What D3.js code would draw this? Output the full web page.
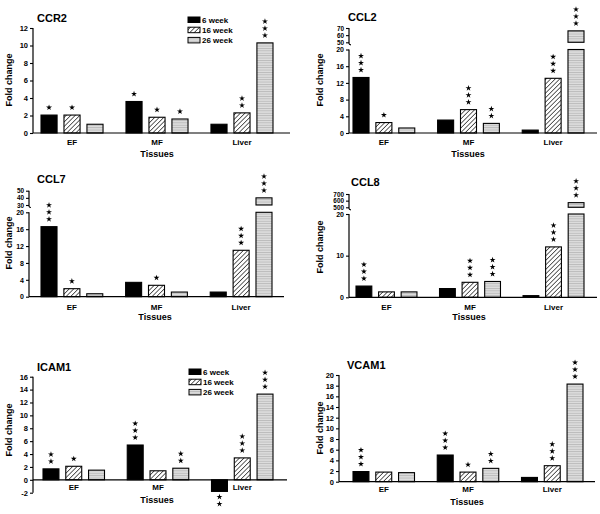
<!DOCTYPE html>
<html><head><meta charset="utf-8">
<script src="https://cdn.jsdelivr.net/npm/d3@7"></script>
<style>
body{margin:0;background:#fff;}
svg{font-family:"Liberation Sans",Arial,sans-serif;font-weight:bold;}
</style></head>
<body><svg id="c" width="600" height="514"></svg>
<script>
// ---------- data ----------
const tissues = ["EF", "MF", "Liver"];
const series = ["6 week", "16 week", "26 week"];
// values[tissue][series]
const ccr2  = [[2.05, 2.05, 1.0], [3.6, 1.8, 1.6], [1.0, 2.3, 10.3]];
const ccr2S = [[1, 1, 0], [1, 1, 1], [0, 2, 3]];
const ccl2  = [[13.3, 2.5, 1.2], [3.1, 5.6, 2.3], [0.7, 13.1, 66]];
const ccl2S = [[3, 1, 0], [0, 3, 2], [0, 3, 3]];
const ccl7  = [[16.6, 1.9, 0.7], [3.4, 2.7, 1.1], [1.1, 11.0, 40]];
const ccl7S = [[3, 1, 0], [0, 1, 0], [0, 3, 3]];
const ccl8  = [[2.7, 1.3, 1.3], [2.1, 3.6, 3.8], [0.4, 12.1, 570]];
const ccl8S = [[3, 0, 0], [0, 3, 3], [0, 3, 3]];
const icam1  = [[1.7, 2.1, 1.5], [5.4, 1.4, 1.8], [-1.8, 3.4, 13.3]];
const icam1S = [[2, 1, 0], [3, 0, 2], [2, 3, 3]];
const vcam1  = [[1.9, 1.8, 1.7], [5.0, 1.8, 2.5], [0.8, 3.0, 18.3]];
const vcam1S = [[3, 0, 0], [3, 1, 2], [0, 3, 3]];

const ticksCCR2 = [0, 2, 4, 6, 8, 10, 12];
const ticksCCL2 = [0, 4, 8, 12, 16, 20], ticksCCL2up = [50, 60, 70];
const ticksCCL7 = [0, 4, 8, 12, 16, 20], ticksCCL7up = [30, 40, 50];
const ticksCCL8 = [0, 10, 20], ticksCCL8up = [500, 600, 700];
const ticksICAM1 = [-2, 0, 2, 4, 6, 8, 10, 12, 14, 16];
const ticksVCAM1 = [0, 2, 4, 6, 8, 10, 12, 14, 16, 18, 20];

// ---------- layout ----------
const panels = [
  {title:"CCR2", v:ccr2, s:ccr2S, ax:33, ar:290, g:[41,273], dom:[0,12], rng:[133,28], ticks:ticksCCR2,
   tp:[37,22], leg:[188,17], fold:[9,80], tis:[157,157], cat:145},
  {title:"CCL2", v:ccl2, s:ccl2S, ax:349, ar:597, g:[353,584], dom:[0,20], rng:[133,49.5], ticks:ticksCCL2,
   up:{dom:[50,70], rng:[42.3,28], ticks:ticksCCL2up}, tp:[348,21], fold:[320,80], tis:[468,157], cat:145},
  {title:"CCL7", v:ccl7, s:ccl7S, ax:29, ar:284, g:[41,272], dom:[0,20], rng:[296.7,212.3], ticks:ticksCCL7,
   up:{dom:[30,50], rng:[205,190.7], ticks:ticksCCL7up}, tp:[37,183], fold:[9,243], tis:[155,320], cat:310},
  {title:"CCL8", v:ccl8, s:ccl8S, ax:349, ar:597, g:[356,584], dom:[0,20], rng:[297.3,214], ticks:ticksCCL8,
   up:{dom:[500,700], rng:[207.3,194], ticks:ticksCCL8up}, tp:[351,186], fold:[320,247], tis:[469,320], cat:310},
  {title:"ICAM1", v:icam1, s:icam1S, ax:33, ar:287, g:[43,273], dom:[-2,16], rng:[492.7,376.7], ticks:ticksICAM1,
   tp:[37,371], leg:[189,369], fold:[9,430], tis:[157,503], cat:490},
  {title:"VCAM1", v:vcam1, s:vcam1S, ax:339, ar:595, g:[353,583], dom:[0,20], rng:[481.7,375], ticks:ticksVCAM1,
   tp:[347,369], fold:[320,428], tis:[467,505], cat:492}
];

const svg = d3.select("#c");
const defs = svg.append("defs");
const hp = defs.append("pattern").attr("id","hatch").attr("patternUnits","userSpaceOnUse")
  .attr("width",3.2).attr("height",3.2).attr("patternTransform","rotate(45)");
hp.append("rect").attr("width",3.2).attr("height",3.2).attr("fill","#fff");
hp.append("line").attr("x1",0).attr("y1",0).attr("x2",0).attr("y2",3.2).attr("stroke","#111").attr("stroke-width",1.3);
const gp = defs.append("pattern").attr("id","grey").attr("patternUnits","userSpaceOnUse")
  .attr("width",4).attr("height",2.4);
gp.append("rect").attr("width",4).attr("height",2.4).attr("fill","#dedede");
gp.append("line").attr("x1",0).attr("y1",0.5).attr("x2",4).attr("y2",0.5).attr("stroke","#a8a8a8").attr("stroke-width",0.7);
const fills = ["#000", "url(#hatch)", "url(#grey)"];

const star = d3.symbol().type(d3.symbolStar).size(11);
const fmt = d => String(d);

function styleAxis(sel, fs) {
  sel.selectAll("line").attr("stroke","#000").attr("stroke-width",1.1);
  sel.selectAll("text").attr("font-size",fs).attr("font-family","Liberation Sans, Arial")
    .attr("font-weight","bold").attr("fill","#000");
}

panels.forEach(p => {
  const g = svg.append("g");
  const x0 = d3.scaleBand().domain(tissues).range(p.g).paddingInner(0.27).paddingOuter(0);
  const x1 = d3.scaleBand().domain(series).range([0, x0.bandwidth()]).paddingInner(0.3).paddingOuter(0);
  const y = d3.scaleLinear().domain(p.dom).range(p.rng);
  const yu = p.up ? d3.scaleLinear().domain(p.up.dom).range(p.up.rng) : null;
  const lowMax = p.dom[1];

  g.append("text").attr("x",p.tp[0]).attr("y",p.tp[1]).attr("font-size",11).text(p.title);

  const ya = g.append("g").attr("transform",`translate(${p.ax},0)`)
    .call(d3.axisLeft(y).tickValues(p.ticks).tickSize(3).tickPadding(2).tickFormat(fmt));
  ya.selectAll("path").attr("stroke","#000").attr("stroke-width",1.2).attr("d",`M0,${y(p.dom[0])}V${y(p.dom[1])}`);
  styleAxis(ya, yu ? 7 : 7.5);

  if (yu) {
    const yb = g.append("g").attr("transform",`translate(${p.ax},0)`)
      .call(d3.axisLeft(yu).tickValues(p.up.ticks).tickSize(3).tickPadding(2).tickFormat(fmt));
    yb.selectAll("path").attr("stroke","#000").attr("stroke-width",1.2).attr("fill","none")
      .attr("d",`M0,${yu(p.up.dom[1])}V${yu(p.up.dom[0])+1}q0,1.5 2,1.5`);
    styleAxis(yb, 6.4);
  }

  tissues.forEach((t, ti) => {
    series.forEach((s, si) => {
      const v = p.v[ti][si];
      const bx = x0(t) + x1(s), bw = x1.bandwidth();
      let top;
      if (yu && v > lowMax) {
        g.append("rect").attr("x",bx).attr("width",bw).attr("y",y(lowMax)).attr("height",y(0)-y(lowMax))
          .attr("fill",fills[si]).attr("stroke","#000").attr("stroke-width",1.1);
        g.append("rect").attr("x",bx).attr("width",bw).attr("y",yu(v)).attr("height",yu(p.up.dom[0])-yu(v))
          .attr("fill",fills[si]).attr("stroke","#000").attr("stroke-width",1.1);
        top = yu(v);
      } else {
        const ya0 = y(Math.max(0, v)), ya1 = y(Math.min(0, v));
        g.append("rect").attr("x",bx).attr("width",bw).attr("y",ya0).attr("height",Math.max(0.8, ya1-ya0))
          .attr("fill",fills[si]).attr("stroke","#000").attr("stroke-width",1.1);
        top = v >= 0 ? ya0 : ya1;
      }
      const n = p.s[ti][si];
      for (let k = 0; k < n; k++) {
        const cy = v >= 0 ? top - 7.5 - k * 7 : top + 5.5 + k * 7;
        g.append("path").attr("d", star).attr("transform",`translate(${bx + bw/2},${cy})`).attr("fill","#000");
      }
    });
    g.append("text").attr("x", x0(t) + x0.bandwidth()/2).attr("y", p.cat).attr("text-anchor","middle")
      .attr("font-size",8).text(t);
  });

  g.append("line").attr("x1",p.ax).attr("x2",p.ar).attr("y1",y(0)).attr("y2",y(0))
    .attr("stroke","#000").attr("stroke-width",1.2);

  g.append("text").attr("transform",`translate(${p.fold[0]},${p.fold[1]}) rotate(-90)`)
    .attr("text-anchor","middle").attr("dominant-baseline","central").attr("font-size",9).text("Fold change");
  g.append("text").attr("x",p.tis[0]).attr("y",p.tis[1]).attr("text-anchor","middle").attr("font-size",9).text("Tissues");

  if (p.leg) {
    series.forEach((s, si) => {
      const ly = p.leg[1] + si * 10.2;
      g.append("rect").attr("x",p.leg[0]).attr("y",ly).attr("width",12).attr("height",5.5)
        .attr("fill",fills[si]).attr("stroke","#000").attr("stroke-width",1);
      g.append("text").attr("x",p.leg[0]+14).attr("y",ly+5.8).attr("font-size",8).text(s);
    });
  }
});
</script></body></html>
